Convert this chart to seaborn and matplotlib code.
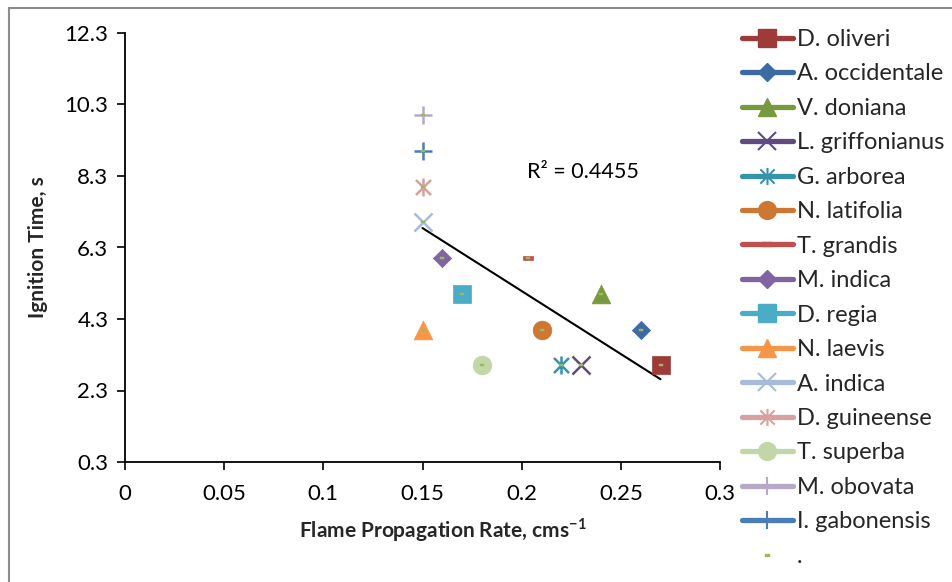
import numpy as np
import pandas as pd
import matplotlib
matplotlib.use("Agg")
import matplotlib.pyplot as plt
import seaborn as sns
from matplotlib.path import Path
from matplotlib.lines import Line2D

# ---- data ----
species = ["D. oliveri", "A. occidentale", "V. doniana", "L. griffonianus", "G. arborea",
           "N. latifolia", "T. grandis", "M. indica", "D. regia", "N. laevis",
           "A. indica", "D. guineense", "T. superba", "M. obovata", "I. gabonensis"]
flame_rate = [0.27, 0.26, 0.24, 0.23, 0.22, 0.21, 0.203, 0.16, 0.17, 0.15,
              0.15, 0.15, 0.18, 0.15, 0.15]
ignition_time = [3, 4, 5, 3, 3, 4, 6, 6, 5, 4, 7, 8, 3, 10, 9]
colors = ["#9E3B39", "#3D6AA2", "#779A3E", "#5F4A82", "#3593AC", "#CD7733", "#C0504D",
          "#8064A2", "#4BACC6", "#F79646", "#A8BCD9", "#D9A0A0", "#C3D6A8", "#B7A8CA", "#4A7EBB"]
r2_label = "R\u00b2 = 0.4455"
yticks = [0.3, 2.3, 4.3, 6.3, 8.3, 10.3, 12.3]
xticks = [0, 0.05, 0.1, 0.15, 0.2, 0.25, 0.3]
xtick_labels = ["0", "0.05", "0.1", "0.15", "0.2", "0.25", "0.3"]

# ---- custom markers ----
asterisk = Path([(-1, -1), (1, 1), (-1, 1), (1, -1), (0, -1.2), (0, 1.2)],
                [Path.MOVETO, Path.LINETO, Path.MOVETO, Path.LINETO, Path.MOVETO, Path.LINETO])
dash = Path([(-1, -0.4), (1, -0.4), (1, 0.4), (-1, 0.4), (-1, -0.4)],
            [Path.MOVETO, Path.LINETO, Path.LINETO, Path.LINETO, Path.CLOSEPOLY])

markers = ["s", "D", "^", "x", asterisk, "o", dash, "D", "s", "^", "x", asterisk, "o", "+", "+"]
sizes = [13.5, 9.3, 13.5, 13, 13, 13.5, 7.5, 9.3, 13.5, 13.5, 13, 13, 13.5, 13, 13]
filled = [True, True, True, False, False, True, True, True, True, True, False, False, True, False, False]

sns.set_theme(style="white")
plt.rcParams["font.family"] = ["Lato", "DejaVu Sans"]
plt.rcParams["mathtext.fontset"] = "custom"
plt.rcParams["mathtext.rm"] = "Lato"
plt.rcParams["mathtext.bf"] = "Lato:bold"

fig = plt.figure(figsize=(9.52, 5.82), dpi=100)
ax = fig.add_axes([125 / 952, 1 - 462 / 582, 595 / 952, 429 / 582])

df = pd.DataFrame({"species": species, "x": flame_rate, "y": ignition_time})

for i, sp in enumerate(species):
    sub = df[df["species"] == sp]
    lw = 0.5 if filled[i] else 1.8
    sns.scatterplot(data=sub, x="x", y="y", ax=ax, marker=markers[i], s=sizes[i] ** 2,
                    color=colors[i], edgecolor=colors[i], linewidth=lw, zorder=3)

# "." series: tiny green dashes on every point
sns.scatterplot(data=df, x="x", y="y", ax=ax, marker=dash, s=3.2 ** 2, color="#9BBB59",
                edgecolor="#9BBB59", linewidth=0.3, zorder=4)

# linear trendline over all points
coef = np.polyfit(flame_rate, ignition_time, 1)
xs = np.array([min(flame_rate), max(flame_rate)])
ax.plot(xs, np.polyval(coef, xs), color="black", lw=1.5, zorder=2)
ax.text(0.2025, 8.42, r2_label, fontsize=15.5, va="center", ha="left", color="black")

ax.set_xlim(0, 0.3)
ax.set_ylim(0.3, 12.3)
ax.set_xticks(xticks)
ax.set_xticklabels(xtick_labels)
ax.set_yticks(yticks)
ax.set_yticklabels([f"{v:.1f}" for v in yticks])
for s in ["top", "right"]:
    ax.spines[s].set_visible(False)
for s in ["left", "bottom"]:
    ax.spines[s].set_color("black")
    ax.spines[s].set_linewidth(1.3)
ax.tick_params(axis="both", which="major", direction="out", length=6, width=1.2,
               color="black", labelsize=16, labelcolor="black", left=True, bottom=True)
ax.tick_params(axis="x", pad=10)
ax.tick_params(axis="y", pad=6)
ax.set_xlabel("Flame Propagation Rate, cms$^{\\mathbf{-1}}$", fontsize=15, fontweight="bold",
              labelpad=9)
ax.xaxis.set_label_coords(0.535, -0.125)
ax.set_ylabel("Ignition Time, s", fontsize=15, fontweight="bold", labelpad=12)
ax.grid(False)

# legend
handles = []
for i, sp in enumerate(species):
    if filled[i]:
        h = Line2D([0], [0], color=colors[i], lw=3.8, marker=markers[i], markersize=sizes[i] * 0.95,
                   markerfacecolor=colors[i], markeredgecolor=colors[i])
    else:
        h = Line2D([0], [0], color=colors[i], lw=3.8, marker=markers[i], markersize=sizes[i] * 0.95,
                   markeredgecolor=colors[i], markeredgewidth=1.5)
    handles.append(h)
handles.append(Line2D([0], [0], color="none", marker=dash, markersize=3.2,
                      markerfacecolor="#9BBB59", markeredgecolor="#9BBB59"))
labels = species + ["."]
leg = fig.legend(handles, labels, loc="upper left", bbox_to_anchor=(742 / 952, 1 - 29 / 582),
                 frameon=False, fontsize=17, handlelength=2.15, handletextpad=0.17,
                 labelspacing=0.57, borderpad=0, borderaxespad=0)

# outer chart border (left and top edges visible)
fig.add_artist(Line2D([9 / 952, 9 / 952], [0, 1 - 8 / 582], transform=fig.transFigure,
                      color="#8C8C8C", lw=1.5))
fig.add_artist(Line2D([9 / 952, 1], [1 - 8 / 582, 1 - 8 / 582], transform=fig.transFigure,
                      color="#8C8C8C", lw=1.5))

fig.savefig("out.png", dpi=100)
